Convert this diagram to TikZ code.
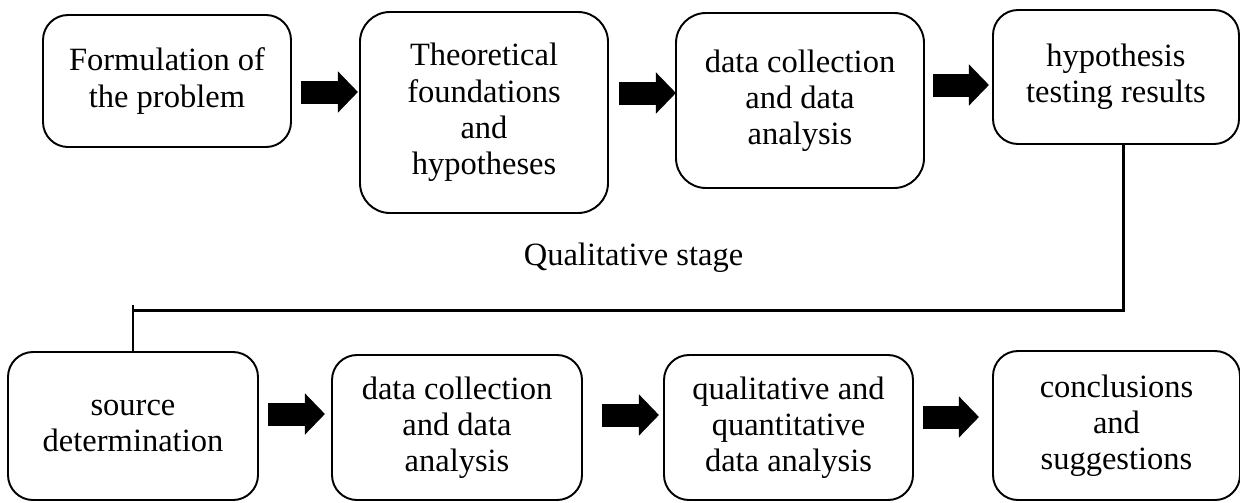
\documentclass[tikz,border=0pt]{standalone}
\usepackage{fontspec}
\setmainfont{Liberation Serif}
\usetikzlibrary{arrows.meta}

\begin{document}
\begin{tikzpicture}[every node/.style={font=\fontsize{18.5}{20.6}\selectfont},
  box/.style={draw, line width=1.1pt, rounded corners=0.5cm, align=center, inner sep=0pt},
  blockarrow/.style={line width=0.46cm, -{Triangle[length=0.4cm, width=0.8cm]}},
  link/.style={line width=1.7pt}]
  \useasboundingbox (0,0) rectangle (24.8,-10.04);

  % upper row
  \node[box, minimum width=4.96cm, minimum height=2.64cm] (f1) at (3.34,-1.62) {Formulation of\\the problem};
  \node[box, rounded corners=0.6cm, minimum width=4.96cm, minimum height=4.02cm] (f2) at (9.68,-2.25) {Theoretical\\foundations\\and\\hypotheses};
  \node[box, rounded corners=0.6cm, minimum width=4.96cm, minimum height=3.5cm] (f3) at (16.0,-2.01) {data collection\\and data\\analysis};
  \node[box, minimum width=4.92cm, minimum height=2.68cm] (f4) at (22.32,-1.54) {hypothesis\\testing results};

  % lower row
  \node[box, minimum width=5.0cm, minimum height=2.96cm] (s1) at (2.66,-8.52) {source\\determination};
  \node[box, minimum width=5.0cm, minimum height=2.9cm] (s2) at (9.14,-8.55) {data collection\\and data\\analysis};
  \node[box, minimum width=4.98cm, minimum height=2.9cm] (s3) at (15.77,-8.55) {qualitative and\\quantitative\\data analysis};
  \node[box, minimum width=4.94cm, minimum height=2.98cm] (s4) at (22.33,-8.51) {conclusions\\and\\suggestions};

  \node[anchor=base] (stage) at (12.67,-5.3) {Qualitative stage};

  % block arrows
  \draw[blockarrow] (f1.east) ++(0.18,-0.22) -- ++(1.14,0);
  \draw[blockarrow] (f2.east) ++(0.20,0.39) -- ++(1.14,0);
  \draw[blockarrow] (f3.east) ++(0.16,0.31) -- ++(1.12,0);
  \draw[blockarrow] (s1.east) ++(0.18,0.24) -- ++(1.14,0);
  \draw[blockarrow] (s2.east) ++(0.38,0.25) -- ++(1.14,0);
  \draw[blockarrow] (s3.east) ++(0.18,0.21) -- ++(1.12,0);

  % link between rows
  \draw[link] ([xshift=1.4mm]f4.south) -- ++(0,-3.32) -| (s1.north);
  \draw[link] (s1.north) -- ++(0,0.92);
\end{tikzpicture}
\end{document}
